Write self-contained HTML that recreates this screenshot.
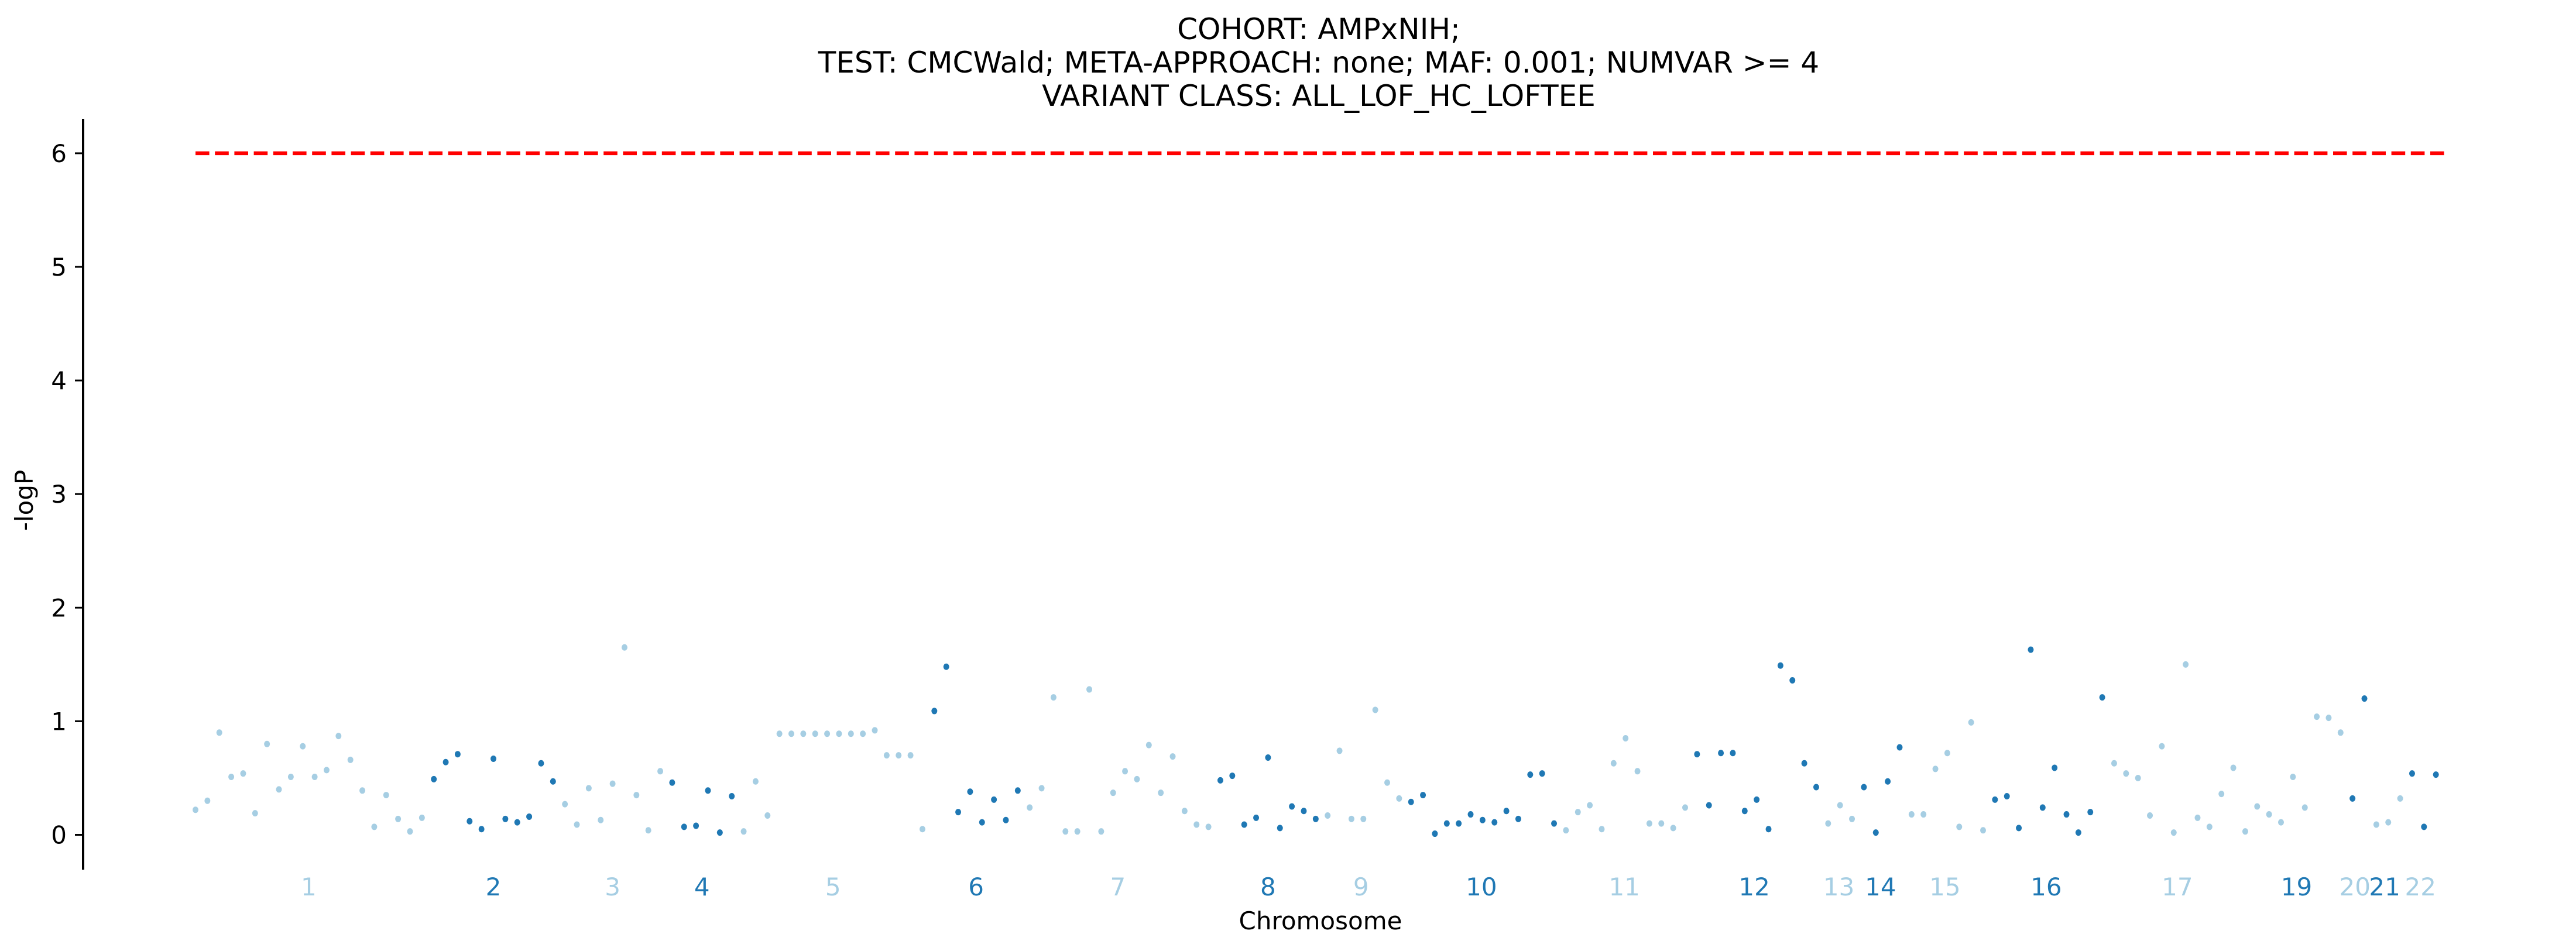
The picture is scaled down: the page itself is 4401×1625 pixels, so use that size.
<!DOCTYPE html>
<html><head><meta charset="utf-8"><style>
html,body{margin:0;padding:0;background:#fff;}
svg{display:block;font-family:"DejaVu Sans","Liberation Sans",sans-serif;}
</style></head><body>
<svg id="chart" width="4401" height="1625" viewBox="0 0 4401 1625" xmlns="http://www.w3.org/2000/svg">
<g font-size="50" text-anchor="middle" fill="#000">
<text x="2253" y="67">COHORT: AMPxNIH;</text>
<text x="2253" y="124">TEST: CMCWald; META-APPROACH: none; MAF: 0.001; NUMVAR &gt;= 4</text>
<text x="2253" y="181">VARIANT CLASS: ALL_LOF_HC_LOFTEE</text>
</g>
<line x1="142" y1="203" x2="142" y2="1486" stroke="#000" stroke-width="4"/>
<g id="yticks"></g>
<text x="0" y="0" font-size="42" text-anchor="middle" transform="translate(56,855) rotate(-90)">-logP</text>
<line id="threshold" stroke="#ff0000" stroke-width="6.5" stroke-dasharray="23.6,9.6"/>
<g id="points"></g>
<g id="xlabels" font-size="42" text-anchor="middle"></g>
<text x="2256" y="1588" font-size="42" text-anchor="middle">Chromosome</text>
</svg>
<script>
const values = [.22,.30,.90,.51,.54,.19,.80,.40,.51,.78,.51,.57,.87,.66,.39,.07,.35,.14,.03,.15,
.49,.64,.71,.12,.05,.67,.14,.11,.16,.63,.47,
.27,.09,.41,.13,.45,1.65,.35,.04,.56,
.46,.07,.08,.39,.02,.34,
.03,.47,.17,.89,.89,.89,.89,.89,.89,.89,.89,.92,
.70,.70,.70,.05,
1.09,1.48,.20,.38,.11,.31,.13,.39,
.24,.41,1.21,.03,.03,1.28,.03,.37,.56,.49,.79,.37,.69,.21,.09,.07,
.48,.52,.09,.15,.68,.06,.25,.21,.14,
.17,.74,.14,.14,1.10,.46,.32,
.29,.35,.01,.10,.10,.18,.13,.11,.21,.14,.53,.54,.10,
.04,.20,.26,.05,.63,.85,.56,.10,.10,.06,.24,
.71,.26,.72,
.72,.21,.31,.05,1.49,1.36,.63,.42,
.10,.26,.14,
.42,.02,.47,.77,
.18,.18,.58,.72,.07,.99,.04,
.31,.34,.06,1.63,.24,.59,.18,.02,.20,1.21,
.63,.54,.50,.17,.78,.02,1.50,.15,.07,.36,.59,.03,.25,.18,.11,.51,.24,
1.04,1.03,.90,
.32,1.20,
.09,.11,.32,
.54,.07,.53];
// color group run-lengths: alternating light (0) / dark (1)
const groupRuns = [20,11,9,6,16,8,16,9,7,13,11,11,3,4,7,10,20,2,3,3];
const chromLabels = ["1","2","3","4","5","6","7","8","9","10","11","12","13","14","15","16","17","19","20","21","22"];
const chromLabelPos = [9.5,25,35,42.5,53.5,65.5,77.4,90,97.8,107.9,119.9,130.8,137.9,141.4,146.8,155.3,166.3,176.3,181.2,183.7,186.7];
const yTicks = [0,1,2,3,4,5,6];
const threshold = 6;
const thresholdSpan = [0,189];

const LIGHT="#a6cee3", DARK="#1f78b4";
const NS="http://www.w3.org/2000/svg";
function xS(i){return 334 + i*20.36;}
function yS(v){return 1426.5 - v*194.1;}

const groups=[];
for(let r=0;r<groupRuns.length;r++){for(let k=0;k<groupRuns[r];k++)groups.push(r%2);}

const pts=document.getElementById('points');
values.forEach((v,i)=>{
  const c=document.createElementNS(NS,'ellipse');
  c.setAttribute('cx',xS(i));c.setAttribute('cy',yS(v));
  c.setAttribute('rx',5);c.setAttribute('ry',5.5);
  c.setAttribute('fill',groups[i]?DARK:LIGHT);
  
  
  pts.appendChild(c);
});

const yt=document.getElementById('yticks');
yTicks.forEach(t=>{
  const l=document.createElementNS(NS,'line');
  l.setAttribute('x1',128);l.setAttribute('x2',142);
  l.setAttribute('y1',yS(t));l.setAttribute('y2',yS(t));
  l.setAttribute('stroke','#000');l.setAttribute('stroke-width',3);
  
  
  yt.appendChild(l);
  const tx=document.createElementNS(NS,'text');
  tx.setAttribute('x',114);tx.setAttribute('y',yS(t)+15);
  tx.setAttribute('font-size',42);tx.setAttribute('text-anchor','end');
  tx.textContent=t;
  
  
  yt.appendChild(tx);
});

const th=document.getElementById('threshold');
th.setAttribute('x1',xS(thresholdSpan[0]));th.setAttribute('x2',xS(thresholdSpan[1]));
th.setAttribute('y1',yS(threshold));th.setAttribute('y2',yS(threshold));

const xl=document.getElementById('xlabels');
chromLabels.forEach((lab,k)=>{
  const tx=document.createElementNS(NS,'text');
  tx.setAttribute('x',xS(chromLabelPos[k]));tx.setAttribute('y',1530);
  tx.setAttribute('fill',k%2?DARK:LIGHT);
  tx.textContent=lab;
  
  
  xl.appendChild(tx);
});
</script>
</body></html>
